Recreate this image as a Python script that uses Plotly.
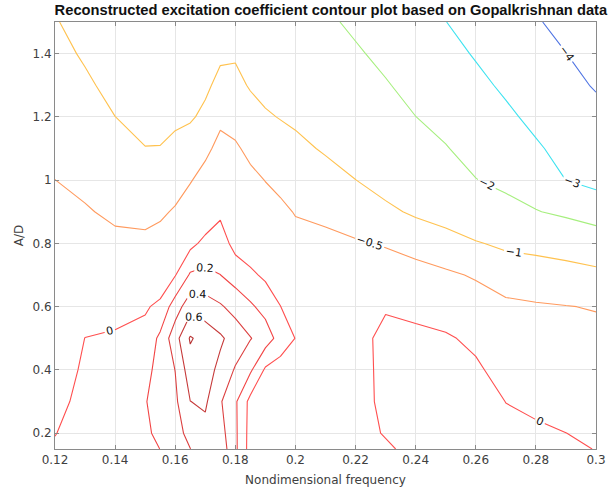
import numpy as np
import plotly.graph_objects as go

# Grid: nondimensional frequency (columns) and A/D (rows)
freq = [0.12, 0.13, 0.14, 0.15, 0.155, 0.16, 0.165, 0.17, 0.175, 0.18, 0.185, 0.19,
        0.195, 0.20, 0.21, 0.22, 0.23, 0.24, 0.25, 0.26, 0.27, 0.28, 0.29, 0.30]
ad = [0.15, 0.2, 0.3, 0.4, 0.5, 0.6, 0.7, 0.8, 0.9, 1.0, 1.1, 1.2, 1.3, 1.4, 1.5]

# Excitation coefficient, one list per frequency column (bottom to top in A/D)
c_0120 = [0.025, -0.006, -0.068, -0.13, -0.191, -0.253, -0.315, -0.377, -0.438, -0.498, -0.594, -0.688, -0.782, -0.876, -0.97]
c_0130 = [0.10, 0.09, 0.07, 0.04, 0.003, -0.113, -0.231, -0.35, -0.468, -0.585, -0.701, -0.817, -0.933, -1.049, -1.165]
c_0140 = [0.14, 0.14, 0.13, 0.09, 0.04, -0.107, -0.262, -0.418, -0.568, -0.712, -0.856, -0.998, -1.12, -1.24, -1.36]
c_0150 = [0.17, 0.18, 0.19, 0.14, 0.07, -0.025, -0.22, -0.416, -0.61, -0.80, -0.99, -1.12, -1.22, -1.32, -1.42]
c_0155 = [0.201, 0.227, 0.277, 0.27, 0.24, 0.05, -0.154, -0.358, -0.564, -0.777, -0.989, -1.1, -1.2, -1.3, -1.4]
c_0160 = [0.298, 0.318, 0.363, 0.403, 0.523, 0.3, -0.01, -0.236, -0.456, -0.682, -0.909, -1.07, -1.19, -1.31, -1.43]
c_0165 = [0.397, 0.467, 0.598, 0.71, 0.82, 0.525, 0.224, -0.056, -0.29, -0.526, -0.79, -1.05, -1.15, -1.25, -1.35]
c_0170 = [0.5, 0.54, 0.63, 0.68, 0.72, 0.493, 0.249, 0.055, -0.146, -0.354, -0.594, -0.906, -1.08, -1.2, -1.32]
c_0175 = [0.526, 0.48, 0.42, 0.55, 0.63, 0.423, 0.202, 0.09, -0.033, -0.206, -0.379, -0.589, -0.885, -1.07, -1.17]
c_0180 = [0.24, 0.2375, 0.23, 0.38, 0.52, 0.33, 0.113, -0.063, -0.19, -0.32, -0.449, -0.643, -0.88, -1.05, -1.15]
c_0185 = [-0.08, -0.075, -0.06, 0.231, 0.41, 0.23, 0.039, -0.117, -0.264, -0.41, -0.59, -0.82, -1.04, -1.15, -1.27]
c_0190 = [-0.1, -0.1, -0.08, -0.03, 0.3, 0.134, -0.035, -0.193, -0.35, -0.508, -0.73, -0.95, -1.13, -1.25, -1.37]
c_0195 = [-0.1, -0.1, -0.1, -0.09, 0.12, 0.004, -0.138, -0.28, -0.422, -0.595, -0.806, -1.02, -1.14, -1.26, -1.38]
c_0200 = [-0.1, -0.1, -0.1, -0.08, -0.005, -0.13, -0.26, -0.385, -0.52, -0.705, -0.89, -1.08, -1.25, -1.42, -1.6]
c_0210 = [-0.1, -0.1, -0.1, -0.12, -0.15, -0.22, -0.32, -0.40, -0.593, -0.826, -1.05, -1.26, -1.46, -1.67, -1.87]
c_0220 = [-0.05, -0.05, -0.05, -0.06, -0.08, -0.207, -0.335, -0.462, -0.706, -0.995, -1.227, -1.455, -1.68, -1.91, -2.14]
c_0230 = [-0.02, 0.01, 0.03, 0.04, 0.06, -0.02, -0.273, -0.536, -0.9, -1.183, -1.44, -1.69, -1.944, -2.18, -2.41]
c_0240 = [0.04, 0.05, 0.06, 0.06, 0.07, -0.08, -0.338, -0.664, -1.074, -1.383, -1.69, -1.995, -2.234, -2.468, -2.70]
c_0250 = [0.05, 0.06, 0.07, 0.06, 0.045, -0.188, -0.43, -0.803, -1.205, -1.583, -1.96, -2.23, -2.49, -2.74, -2.99]
c_0260 = [0.06, 0.07, 0.07, 0.06, -0.08, -0.301, -0.542, -0.958, -1.464, -1.98, -2.26, -2.53, -2.80, -3.067, -3.316]
c_0270 = [0.05, 0.04, -0.002, -0.145, -0.285, -0.426, -0.68, -1.1, -1.734, -2.19, -2.52, -2.85, -3.134, -3.38, -3.63]
c_0280 = [0.03, 0.03, -0.04, -0.179, -0.318, -0.458, -0.754, -1.15, -1.96, -2.44, -2.90, -3.195, -3.44, -3.69, -3.93]
c_0290 = [0.02, 0.002, -0.12, -0.243, -0.366, -0.489, -0.79, -1.25, -2.17, -3.005, -3.25, -3.5, -3.75, -3.99, -4.24]
c_0300 = [-0.003, -0.057, -0.172, -0.286, -0.4, -0.52, -0.84, -1.45, -2.43, -3.25, -3.5, -3.75, -4.07, -4.38, -4.70]

levels = [-4, -3, -2, -1, -0.5, 0, 0.2, 0.4, 0.6, 0.8]
level_colors = ['#4f74e3', '#3fe3f0', '#a6ef7e', '#ffc24f', '#ff9a5e',
                '#ff4f4f', '#f24646', '#dc4040', '#c63a3a', '#b83434']

x_ticks = [0.12, 0.14, 0.16, 0.18, 0.20, 0.22, 0.24, 0.26, 0.28, 0.30]
x_ticktext = ['0.12', '0.14', '0.16', '0.18', '0.2', '0.22', '0.24', '0.26', '0.28', '0.3']
y_ticks = [0.2, 0.4, 0.6, 0.8, 1.0, 1.2, 1.4]
y_ticktext = ['0.2', '0.4', '0.6', '0.8', '1', '1.2', '1.4']

columns = [c_0120, c_0130, c_0140, c_0150, c_0155, c_0160, c_0165, c_0170, c_0175, c_0180,
           c_0185, c_0190, c_0195, c_0200, c_0210, c_0220, c_0230, c_0240, c_0250, c_0260,
           c_0270, c_0280, c_0290, c_0300]
Z = np.column_stack(columns)

FONT = 'DejaVu Sans, sans-serif'
TFONT = 'Liberation Sans, Arial, sans-serif'
fig = go.Figure()
for lev, col in zip(levels, level_colors):
    fig.add_trace(go.Contour(
        x=freq, y=ad, z=Z,
        autocontour=False,
        contours=dict(start=lev, end=lev, size=1, coloring='none',
                      showlabels=(lev != 0.8),
                      labelfont=dict(family=FONT, size=11, color='#111111')),
        line=dict(color=col, width=1.1, smoothing=0),
        showscale=False, hoverinfo='skip', name=str(lev)))

axis_common = dict(showgrid=True, gridcolor='#e6e6e6', gridwidth=1,
                   showline=True, linecolor='#8a8a8a', linewidth=1, mirror='ticks',
                   ticks='inside', ticklen=4, tickcolor='#8a8a8a', automargin=False,
                   tickfont=dict(family=FONT, size=12, color='#404040'), zeroline=False)

fig.update_layout(
    width=615, height=491,
    margin=dict(l=55, r=19, t=22, b=42),
    paper_bgcolor='white', plot_bgcolor='white',
    title=dict(text='<b>Reconstructed excitation coefficient contour plot based on Gopalkrishnan data</b>',
               x=0.538, xanchor='center', y=0.979, yanchor='middle',
               font=dict(family=TFONT, size=14.7, color='#111111')),
    xaxis=dict(range=[0.12, 0.30], tickvals=x_ticks, ticktext=x_ticktext,
               title=dict(text='Nondimensional frequency', standoff=9,
                          font=dict(family=FONT, size=12, color='#404040')),
               **axis_common),
    yaxis=dict(range=[0.15, 1.5], tickvals=y_ticks, ticktext=y_ticktext,
               title=dict(text='A/D', standoff=6,
                          font=dict(family=FONT, size=12, color='#404040')),
               **axis_common),
    showlegend=False,
)

fig.write_html('out.html', config={'displayModeBar': False},
               post_script="document.body.style.margin='0';document.body.style.overflow='hidden';")
